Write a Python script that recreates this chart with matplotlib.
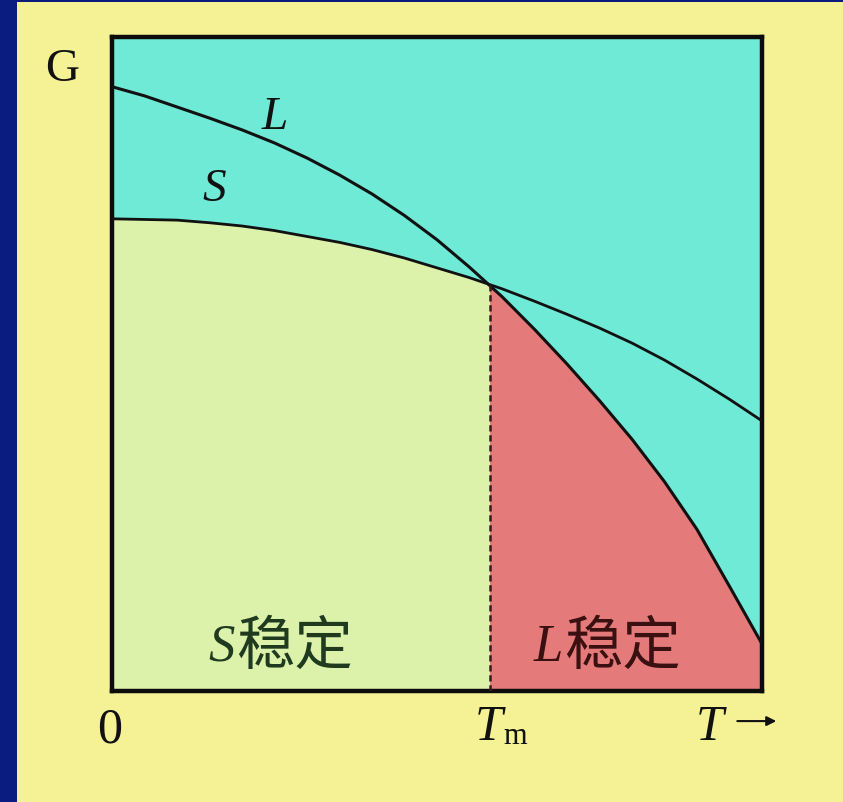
import numpy as np
import matplotlib
matplotlib.use("Agg")
import matplotlib.pyplot as plt
from matplotlib.patches import Rectangle

# temperature (normalised) and free energy
T = [0.00, 0.05, 0.10, 0.15, 0.20, 0.25, 0.30, 0.35, 0.40, 0.45, 0.50,
     0.55, 0.60, 0.65, 0.70, 0.75, 0.80, 0.85, 0.90, 0.95, 1.00]
G_liquid = [0.924, 0.910, 0.893, 0.876, 0.858, 0.838, 0.815, 0.789, 0.760, 0.727, 0.690,
            0.648, 0.603, 0.553, 0.500, 0.444, 0.385, 0.320, 0.247, 0.160, 0.072]
G_solid = [0.722, 0.721, 0.720, 0.716, 0.711, 0.704, 0.695, 0.686, 0.675, 0.662, 0.647,
           0.632, 0.615, 0.596, 0.576, 0.555, 0.532, 0.506, 0.477, 0.446, 0.413]
T_m = 0.582
G_m = 0.621

BG = "#F4F294"
NAVY = "#0B1C80"
TEAL = "#6EEAD6"
GREEN = "#DCF2AA"
RED = "#E57A7A"
SERIF = "Liberation Serif"
CJK = ["Noto Sans CJK SC", "DejaVu Sans"]

fig = plt.figure(figsize=(8.43, 8.03), dpi=100, facecolor=BG)
# navy slide frame on the left and top
fig.patches.append(Rectangle((0, 0), 17 / 843, 1, transform=fig.transFigure,
                             facecolor=NAVY, edgecolor="none", zorder=0))
fig.patches.append(Rectangle((0, 1 - 3 / 803), 1, 3 / 803, transform=fig.transFigure,
                             facecolor=NAVY, edgecolor="none", zorder=0))

ax = fig.add_axes([112 / 843, 111 / 803, 650 / 843, 654 / 803])
ax.set_facecolor(TEAL)
ax.set_xlim(0, 1)
ax.set_ylim(0, 1)

t = np.array(T)
gl = np.array(G_liquid)
gs = np.array(G_solid)

# stable regions: solid below Tm, liquid above Tm
f1 = ax.fill_between(t, 0, gs, color=GREEN, lw=0, zorder=1)
f1.set_clip_path(Rectangle((0, 0), T_m, 1, transform=ax.transData))
f2 = ax.fill_between(t, 0, gl, color=RED, lw=0, zorder=1)
f2.set_clip_path(Rectangle((T_m, 0), 1 - T_m, 1, transform=ax.transData))

ax.plot(t, gl, color="#111111", lw=2.2, zorder=3)
ax.plot(t, gs, color="#111111", lw=2.0, zorder=3)
ax.plot([T_m, T_m], [0, G_m], color="#3a1a1a", lw=1.8, ls=(0, (2.5, 1.5)), zorder=3)

for s in ax.spines.values():
    s.set_linewidth(3.2)
    s.set_color("#0c0c0c")
ax.set_xticks([])
ax.set_yticks([])

tr = ax.transAxes
ax.text(-0.077, 0.951, "G", transform=tr, ha="center", va="center",
        fontsize=34, family=SERIF, color="#111111")
ax.text(-0.003, -0.058, "0", transform=tr, ha="center", va="center",
        fontsize=36, family=SERIF, color="#111111")
ax.text(0.58, -0.055, "T", transform=tr, ha="center", va="center",
        fontsize=36, family=SERIF, style="italic", color="#111111")
ax.text(0.62, -0.068, "m", transform=tr, ha="center", va="center",
        fontsize=22, family=SERIF, color="#111111")
ax.text(0.92, -0.055, "T", transform=tr, ha="center", va="center",
        fontsize=36, family=SERIF, style="italic", color="#111111")
ax.annotate("", xy=(1.022, -0.046), xytext=(0.962, -0.046), xycoords=tr,
            textcoords=tr, annotation_clip=False,
            arrowprops=dict(arrowstyle="-|>", color="#111111", lw=1.5,
                            mutation_scale=14, shrinkA=0, shrinkB=0))

ax.text(0.251, 0.878, "L", transform=tr, ha="center", va="center",
        fontsize=34, family=SERIF, style="italic", color="#111111")
ax.text(0.158, 0.768, "S", transform=tr, ha="center", va="center",
        fontsize=34, family=SERIF, style="italic", color="#111111")

ax.text(0.168, 0.068, "S", transform=tr, ha="center", va="center",
        fontsize=38, family=SERIF, style="italic", color="#1f3a1f")
ax.text(0.281, 0.068, "稳定", transform=tr, ha="center", va="center",
        fontsize=42, family=CJK, color="#1f3a1f")
ax.text(0.671, 0.068, "L", transform=tr, ha="center", va="center",
        fontsize=38, family=SERIF, style="italic", color="#3a1010")
ax.text(0.786, 0.068, "稳定", transform=tr, ha="center", va="center",
        fontsize=42, family=CJK, color="#3a1010")

fig.savefig("out.png", dpi=100, facecolor=BG)
